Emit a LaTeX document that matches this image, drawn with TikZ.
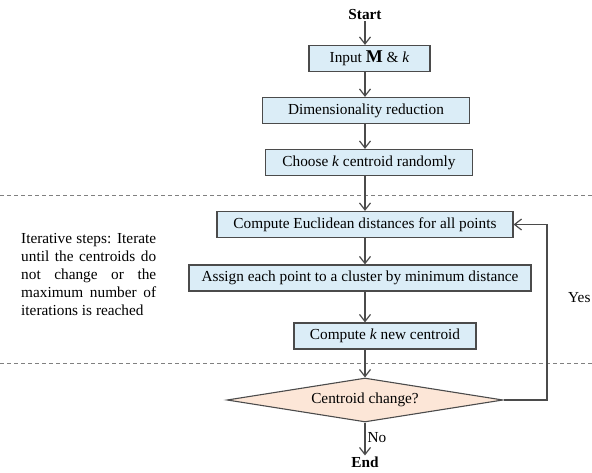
\documentclass[tikz,border=0pt]{standalone}
\usepackage{fontspec}
\setmainfont{Liberation Serif}
\usetikzlibrary{shapes.geometric,arrows.meta}

\definecolor{boxblue}{RGB}{219,237,247}
\definecolor{diapeach}{RGB}{252,230,215}
\definecolor{edgegray}{RGB}{75,75,75}

\newcommand{\noteline}[1]{\makebox[135pt][s]{#1}}

\begin{document}
\begin{tikzpicture}[x=1pt, y=-1pt]
        \tikzstyle{flow_box} = [shape = rectangle, draw = edgegray, fill = boxblue, line width = 1.2pt, minimum height = 26pt, inner sep = 0pt, font = \fontsize{15.3}{18}\selectfont]
        \tikzstyle{flow_cond} = [shape = diamond, draw = edgegray, fill = diapeach, line width = 1.1pt, minimum width = 276pt, minimum height = 44pt, inner sep = 0pt, aspect = 6, font = \fontsize{15.3}{18}\selectfont]
        \tikzstyle{flow_term} = [inner sep = 1pt, font = \fontsize{15.3}{18}\selectfont\bfseries]
        \tikzstyle{flow_label} = [inner sep = 0pt, font = \fontsize{15.3}{18}\selectfont]
        \tikzstyle{flow_arrow} = [draw = edgegray, line width = 1.2pt, -{Straight Barb[length = 7pt, width = 11pt]}]
        \tikzstyle{stage_sep} = [draw = gray, line width = 1pt, dash pattern = on 4pt off 3pt]

        \useasboundingbox (0, 0) rectangle (592, 473);

        \node[flow_term] at (365,  15) (start) {Start};

        \node[flow_box, minimum width = 121pt] at (369.5,  58.5) (input) {Input {\fontsize{18}{18}\selectfont\bfseries M} \& \textit{k}};

        \node[flow_box, minimum width = 207pt] at (366, 110.5) (dimred) {Dimensionality reduction};

        \node[flow_box, minimum width = 207pt] at (369, 162.5) (choose) {Choose \textit{k} centroid randomly};

        \node[flow_box, minimum width = 296pt] at (365, 224.5) (euclid) {Compute Euclidean distances for all points};

        \node[flow_box, minimum width = 342pt] at (360, 278) (assign) {Assign each point to a cluster by minimum distance};

        \node[flow_box, minimum width = 182pt] at (385, 336) (newcent) {Compute \textit{k} new centroid};

        \node[flow_cond] at (365, 400) (change) {Centroid change?};

        \node[flow_term] at (365, 462) (end) {End};

        \node[flow_label, anchor = north west, align = left] at (21, 233) (note) {\noteline{Iterative steps: Iterate}\\ \noteline{until the centroids do}\\ \noteline{not change or the}\\ \noteline{maximum number of}\\ iterations is reached};

        \node[flow_label, anchor = west] at (568, 298) (yes) {Yes};

        \coordinate (loop) at (547, 400);

        % stage separators
        \draw[stage_sep] (0, 196) -- (592, 196);
        \draw[stage_sep] (0, 363) -- (592, 363);

        \draw[flow_arrow] (start.south) -- (start.south |- input.north);
        \draw[flow_arrow] (input.south -| start) -- (dimred.north -| start);
        \draw[flow_arrow] (dimred.south -| start) -- (choose.north -| start);
        \draw[flow_arrow] (choose.south -| start) -- (euclid.north -| start);
        \draw[flow_arrow] (euclid.south -| start) -- (assign.north -| start);
        \draw[flow_arrow] (assign.south -| start) -- (newcent.north -| start);
        \draw[flow_arrow] (newcent.south -| start) -- (change.north);
        \draw[flow_arrow] (change.south) -- node[flow_label, right = 2pt, pos = 0.45] {No} (end.north);

        % loop back when centroids still move
        \draw[flow_arrow] (change.east) -- (loop) |- (euclid.east);
\end{tikzpicture}
\end{document}
